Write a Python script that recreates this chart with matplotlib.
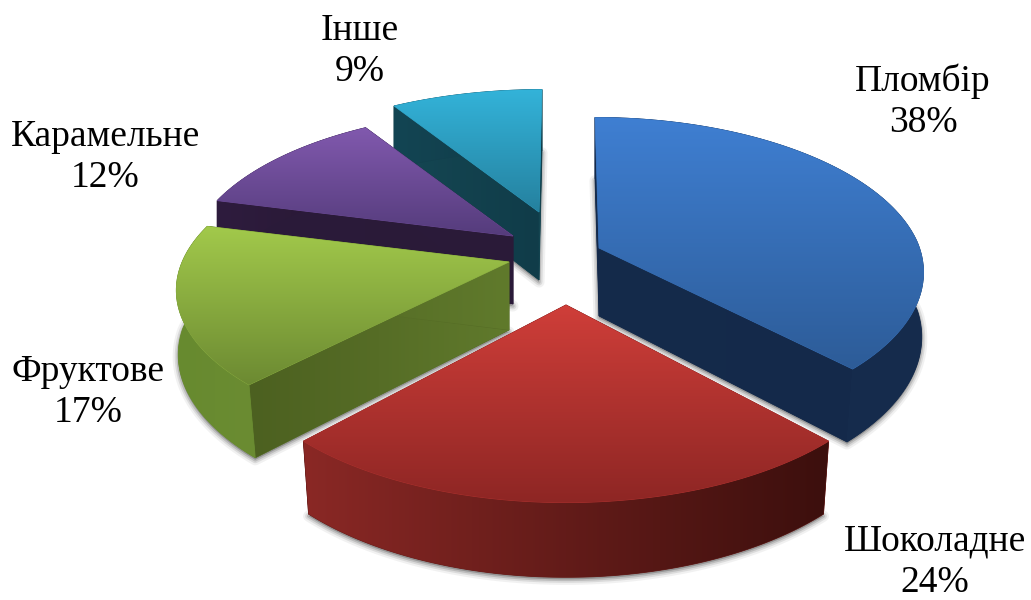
"""Exploded pseudo-3D pie of ice cream preferences, drawn in pixel coordinates."""

import matplotlib
matplotlib.use("Agg")
import matplotlib.pyplot as plt
from matplotlib.colors import to_rgb
from matplotlib.patches import PathPatch, Polygon
from matplotlib.path import Path

import numpy as np

CATEGORIES = ["Пломбір", "Шоколадне", "Фруктове", "Карамельне", "Інше"]
VALUES = [38, 24, 17, 12, 9]

# layout of each slice, in image pixels
APEX_X = [599, 566, 509, 513, 539]
APEX_Y = [248, 305, 262, 236, 212]
X_SCALE = [0.995, 1.03, 1.02, 1.0, 1.0]
Y_SCALE = [0.95, 1.0, 0.93, 0.95, 0.93]
RIM_DY = [-5.5, 3, -1, 0, 0]
LEAN_X = [-4, 0, 0, 0, 3]
LABEL_X = [923, 935, 88, 105, 360]
LABEL_Y = [102, 562, 392, 157, 51]

# colours: top face start/end, rim start/end, cut face start/end
TOP_COLORS = [("#3f7fd2", "#2d5c98"), ("#cf3e39", "#8e2624"), ("#a2c94b", "#6c8a32"),
              ("#8159ae", "#553c7c"), ("#33b3d9", "#25819f")]
RIM_COLORS = [("#14294a", "#162c4d"), ("#8a2825", "#3c0f0d"), ("#678a2f", "#6b8c32"),
              ("#2e1c3e", "#281833"), ("#134553", "#103a47")]
CUT_COLORS = [("#152b4b", "#14294a"), ("#7a2320", "#5a1a18"), ("#4c6020", "#607a2c"),
              ("#2b1b3a", "#2a1a38"), ("#154753", "#103c49")]
DRAW_ORDER = [4, 3, 2, 0, 1]

X_RADIUS = 320
Y_RADIUS = 157
PERSPECTIVE = 0.193
DEPTH = 68
DEPTH_SHRINK = 0.027
CENTER_X = 567


def project(idx, angle):
    """Angle clockwise from 12 o'clock -> top face point of slice idx."""
    u = np.sin(np.radians(angle))
    v = np.cos(np.radians(angle))
    s = 1 / (1 + PERSPECTIVE * v)
    x = APEX_X[idx] + X_SCALE[idx] * X_RADIUS * u * s + LEAN_X[idx] * np.maximum(v, 0)
    y = APEX_Y[idx] + RIM_DY[idx] - Y_SCALE[idx] * Y_RADIUS * v * s
    return np.column_stack([x, y]), v


def drop(pts, v):
    """Push top face points down to the bottom face."""
    out = pts.copy()
    shrink = 1 + DEPTH_SHRINK * np.minimum(v, 0)
    out[:, 0] = CENTER_X + (pts[:, 0] - CENTER_X) * shrink
    out[:, 1] = pts[:, 1] + DEPTH * (1 - 0.1 * v)
    return out


def gradient_poly(ax, pts, colors, vertical, zorder):
    c0, c1 = np.array(to_rgb(colors[0])), np.array(to_rgb(colors[1]))
    # solid base under the image so the clip border leaves no light seam
    ax.add_patch(Polygon(pts, closed=True, facecolor=(c0 + c1) / 2, edgecolor=(c0 + c1) / 2,
                         linewidth=0.6, zorder=zorder))
    t = np.linspace(0, 1, 128)[:, None]
    ramp = c0 + (c1 - c0) * t
    ramp = ramp[:, None, :] if vertical else ramp[None, :, :]
    x0, y0 = pts.min(axis=0)
    x1, y1 = pts.max(axis=0)
    im = ax.imshow(ramp, extent=(x0, x1, y1, y0), origin="upper", aspect="auto",
                   interpolation="bilinear", zorder=zorder)
    patch = PathPatch(Path(np.vstack([pts, pts[:1]])), transform=ax.transData,
                      facecolor="none", edgecolor="none")
    ax.add_patch(patch)
    im.set_clip_path(patch)


def draw_slice(ax, idx, start, end, zorder):
    angles = np.linspace(start, end, 120)
    rim, v = project(idx, angles)
    rim_low = drop(rim, v)
    apex = np.array([[APEX_X[idx], APEX_Y[idx]]], dtype=float)
    apex_low = drop(apex, np.zeros(1))

    # soft shadow around the bottom face
    low = np.vstack([apex_low, rim_low]) + [0, 2]
    for lw, alpha in [(8, 0.08), (5, 0.14), (2.5, 0.22)]:
        ax.add_patch(Polygon(low, closed=True, facecolor="#555555", edgecolor="#555555",
                             linewidth=lw, alpha=alpha, joinstyle="round", zorder=zorder))

    for edge, edge_low in [(rim[:1], rim_low[:1]), (rim[-1:], rim_low[-1:])]:
        face = np.vstack([apex, edge, edge_low, apex_low])
        gradient_poly(ax, face, CUT_COLORS[idx], False, zorder + 0.1)
    wall = np.vstack([rim, rim_low[::-1]])
    gradient_poly(ax, wall, RIM_COLORS[idx], False, zorder + 0.2)
    top = np.vstack([apex, rim])
    gradient_poly(ax, top, TOP_COLORS[idx], True, zorder + 0.3)


def main():
    fig = plt.figure(figsize=(10.31, 6.0), dpi=100)
    ax = fig.add_axes([0, 0, 1, 1])

    total = sum(VALUES)
    edges = np.concatenate([[0], np.cumsum(VALUES)]) / total * 360
    for order, idx in enumerate(DRAW_ORDER):
        draw_slice(ax, idx, edges[idx], edges[idx + 1], 2 + order)

    for i, name in enumerate(CATEGORIES):
        ax.text(LABEL_X[i], LABEL_Y[i], f"{name}\n{VALUES[i]}%", ha="center", va="center",
                fontsize=27, family="Liberation Serif", color="black", linespacing=1.25,
                zorder=20)

    ax.set_xlim(0, 1031)
    ax.set_ylim(600, 0)
    ax.axis("off")
    fig.savefig("out.png", dpi=100)


if __name__ == "__main__":
    main()
